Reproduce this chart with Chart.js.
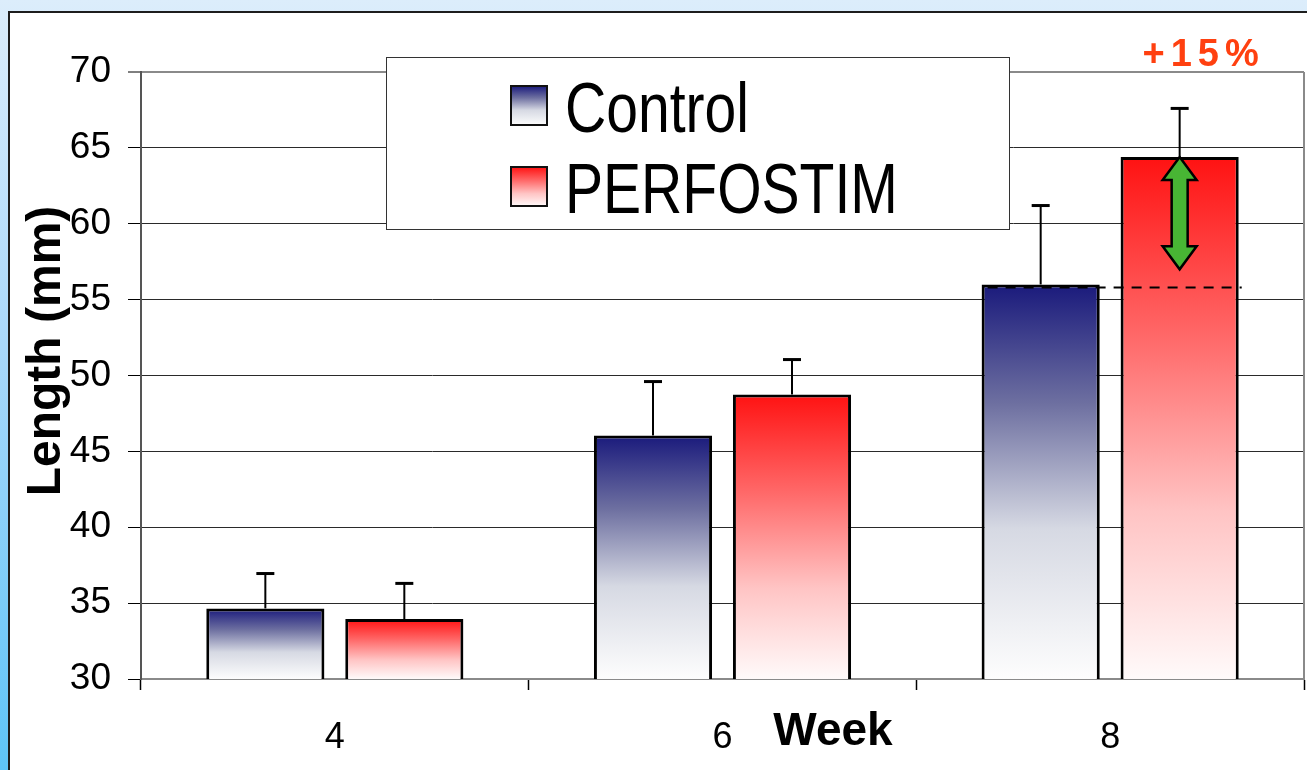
<!DOCTYPE html>
<html>
<head>
<meta charset="utf-8">
<script src="https://cdn.jsdelivr.net/npm/chart.js@4.4.1/dist/chart.umd.min.js"></script>
<style>
  html, body { margin: 0; padding: 0; }
  body {
    width: 1307px; height: 770px; overflow: hidden; position: relative;
    background: linear-gradient(to bottom, #dcedfb 0%, #a9d8fa 45%, #5ec4f7 100%);
  }
  #panel {
    position: absolute; left: 8px; top: 11px; width: 1320px; height: 780px;
    background: #fff; border-left: 2px solid #1d1d1d; border-top: 2px solid #1d1d1d;
    box-sizing: border-box;
  }
  #chart { position: absolute; left: 0; top: 0; }
</style>
</head>
<body>
<div id="panel"></div>
<canvas id="chart" width="1307" height="770"></canvas>
<script>
// values
const weeks = ['4', '6', '8'];
const controlMean = [34.65, 46.05, 56.0];
const controlErr = [2.3, 3.55, 5.2];
const perfostimMean = [33.95, 48.75, 64.4];
const perfostimErr = [2.35, 2.3, 3.2];
const yTicks = { min: 30, max: 70, step: 5 };
const refLevel = 55.8;      // dashed line at control week 8
const arrowBottom = 57.0;   // green arrow lower tip
const gainLabel = '+15%';

const SANS = "'Liberation Sans', Arial, sans-serif";
const NARROW_X = 0.815;     // the original uses a condensed face

const blueStops = [[0, '#1a1a7c'], [0.3, '#6d6fa0'], [0.62, '#d6d9e3'], [1, '#fdfdfd']];
const redStops = [[0, '#ff1212'], [0.35, '#ff6a6a'], [0.68, '#ffc4c4'], [1, '#fffafa']];

function addStops(g, stops) {
  stops.forEach(([o, c]) => g.addColorStop(o, c));
  return g;
}

// each bar gets its own top-to-base gradient
function barGradient(stops) {
  return (ctx) => {
    const chart = ctx.chart;
    if (!chart.chartArea || ctx.type !== 'data') return stops[0][1];
    const y = chart.scales.y;
    const top = y.getPixelForValue(ctx.raw);
    const base = y.getPixelForValue(yTicks.min);
    return addStops(chart.ctx.createLinearGradient(0, top, 0, base), stops);
  };
}

const errors = [controlErr, perfostimErr];

const annotations = {
  id: 'annotations',
  beforeDatasetsDraw(chart) {
    const { ctx, chartArea } = chart;
    // right frame line of the plot
    ctx.save();
    ctx.strokeStyle = '#8a8a8a';
    ctx.lineWidth = 2;
    ctx.beginPath();
    ctx.moveTo(chartArea.right, chartArea.top);
    ctx.lineTo(chartArea.right, chartArea.bottom);
    ctx.stroke();
    ctx.restore();
  },
  afterDatasetsDraw(chart) {
    const { ctx, chartArea } = chart;
    const y = chart.scales.y;

    // error bars (upper only)
    ctx.save();
    ctx.strokeStyle = '#000';
    chart.data.datasets.forEach((ds, i) => {
      chart.getDatasetMeta(i).data.forEach((bar, j) => {
        const yTop = y.getPixelForValue(ds.data[j] + errors[i][j]);
        ctx.lineWidth = 2;
        ctx.beginPath();
        ctx.moveTo(bar.x, bar.y);
        ctx.lineTo(bar.x, yTop);
        ctx.stroke();
        ctx.lineWidth = 3;
        ctx.beginPath();
        ctx.moveTo(bar.x - 9, yTop);
        ctx.lineTo(bar.x + 9, yTop);
        ctx.stroke();
      });
    });
    ctx.restore();

    // dashed reference line and green double arrow on week 8
    const ctrl = chart.getDatasetMeta(0).data[2];
    const perf = chart.getDatasetMeta(1).data[2];
    const yRef = y.getPixelForValue(refLevel);
    ctx.save();
    ctx.strokeStyle = '#000';
    ctx.lineWidth = 2;
    ctx.setLineDash([10, 8]);
    ctx.beginPath();
    ctx.moveTo(ctrl.x - ctrl.width / 2 + 6, yRef);
    ctx.lineTo(perf.x + perf.width / 2 + 3, yRef);
    ctx.stroke();
    ctx.restore();

    const yA = y.getPixelForValue(perfostimMean[2]);
    const yB = y.getPixelForValue(arrowBottom);
    const cx = perf.x, hw = 17, sw = 8, hl = 23;
    ctx.save();
    ctx.beginPath();
    ctx.moveTo(cx, yA);
    ctx.lineTo(cx + hw, yA + hl);
    ctx.lineTo(cx + sw, yA + hl);
    ctx.lineTo(cx + sw, yB - hl);
    ctx.lineTo(cx + hw, yB - hl);
    ctx.lineTo(cx, yB);
    ctx.lineTo(cx - hw, yB - hl);
    ctx.lineTo(cx - sw, yB - hl);
    ctx.lineTo(cx - sw, yA + hl);
    ctx.lineTo(cx - hw, yA + hl);
    ctx.closePath();
    ctx.fillStyle = '#48b534';
    ctx.fill();
    ctx.lineWidth = 2.5;
    ctx.strokeStyle = '#000';
    ctx.stroke();

    // +15% label
    ctx.fillStyle = '#ff4010';
    ctx.font = 'bold 38px ' + SANS;
    ctx.letterSpacing = '6px';
    ctx.textAlign = 'center';
    ctx.textBaseline = 'alphabetic';
    ctx.fillText(gainLabel, cx + 24, chartArea.top - 6);
    ctx.restore();
  },
  afterDraw(chart) {
    const { ctx } = chart;
    ctx.save();
    // legend box
    const bx = 386.5, by = 57.5, bw = 623, bh = 172;
    ctx.fillStyle = '#fff';
    ctx.fillRect(bx, by, bw, bh);
    ctx.strokeStyle = '#333';
    ctx.lineWidth = 1;
    ctx.strokeRect(bx, by, bw, bh);
    const items = [
      { text: chart.data.datasets[0].label, stops: blueStops, y: 86 },
      { text: chart.data.datasets[1].label, stops: redStops, y: 167 }
    ];
    items.forEach((it) => {
      ctx.fillStyle = addStops(ctx.createLinearGradient(0, it.y, 0, it.y + 39), it.stops);
      ctx.fillRect(511, it.y, 36, 39);
      ctx.lineWidth = 2;
      ctx.strokeStyle = '#111';
      ctx.strokeRect(511, it.y, 36, 39);
      ctx.save();
      ctx.translate(565, it.y + 46);
      ctx.scale(NARROW_X, 1);
      ctx.fillStyle = '#000';
      ctx.font = '70px ' + SANS;
      ctx.textAlign = 'left';
      ctx.textBaseline = 'alphabetic';
      ctx.fillText(it.text, 0, 0);
      ctx.restore();
    });

    // axis titles
    ctx.fillStyle = '#000';
    ctx.font = 'bold 46px ' + SANS;
    ctx.textAlign = 'center';
    ctx.textBaseline = 'middle';
    ctx.fillText('Week', 833, 732);
    ctx.font = 'bold 48px ' + SANS;
    ctx.translate(47, 351);
    ctx.rotate(-Math.PI / 2);
    ctx.fillText('Length (mm)', 0, 0);
    ctx.restore();
  }
};

new Chart(document.getElementById('chart'), {
  type: 'bar',
  data: {
    labels: weeks,
    datasets: [
      {
        label: 'Control',
        data: controlMean,
        backgroundColor: barGradient(blueStops),
        borderColor: '#000',
        borderWidth: 3,
        borderSkipped: false
      },
      {
        label: 'PERFOSTIM',
        data: perfostimMean,
        backgroundColor: barGradient(redStops),
        borderColor: '#000',
        borderWidth: 3,
        borderSkipped: false
      }
    ]
  },
  options: {
    responsive: false,
    devicePixelRatio: 1,
    animation: false,
    layout: { padding: { left: 20, top: 72, right: 3, bottom: 0 } },
    categoryPercentage: 0.717,
    barPercentage: 0.85,
    plugins: {
      legend: { display: false },
      tooltip: { enabled: false }
    },
    scales: {
      x: {
        grid: {
          offset: true,
          drawOnChartArea: false,
          drawTicks: true,
          tickLength: 11,
          tickColor: '#000',
          tickWidth: 1.5
        },
        border: { color: '#8a8a8a', width: 2 },
        ticks: { color: '#000', font: { family: SANS, size: 36 }, padding: 26 },
        afterFit: (s) => { s.height = 91; }
      },
      y: {
        min: yTicks.min,
        max: yTicks.max,
        ticks: {
          stepSize: yTicks.step,
          color: '#000',
          font: { family: SANS, size: 37 },
          padding: 17
        },
        grid: {
          color: (c) => (c.tick.value === yTicks.max || c.tick.value === yTicks.min) ? '#8a8a8a' : '#2a2a2a',
          lineWidth: (c) => (c.tick.value === yTicks.max ? 2 : 1),
          tickLength: 13,
          tickColor: '#000',
          tickWidth: 1
        },
        border: { color: '#555', width: 2 },
        afterFit: (s) => { s.width = 121; }
      }
    }
  },
  plugins: [annotations]
});
</script>
</body>
</html>
